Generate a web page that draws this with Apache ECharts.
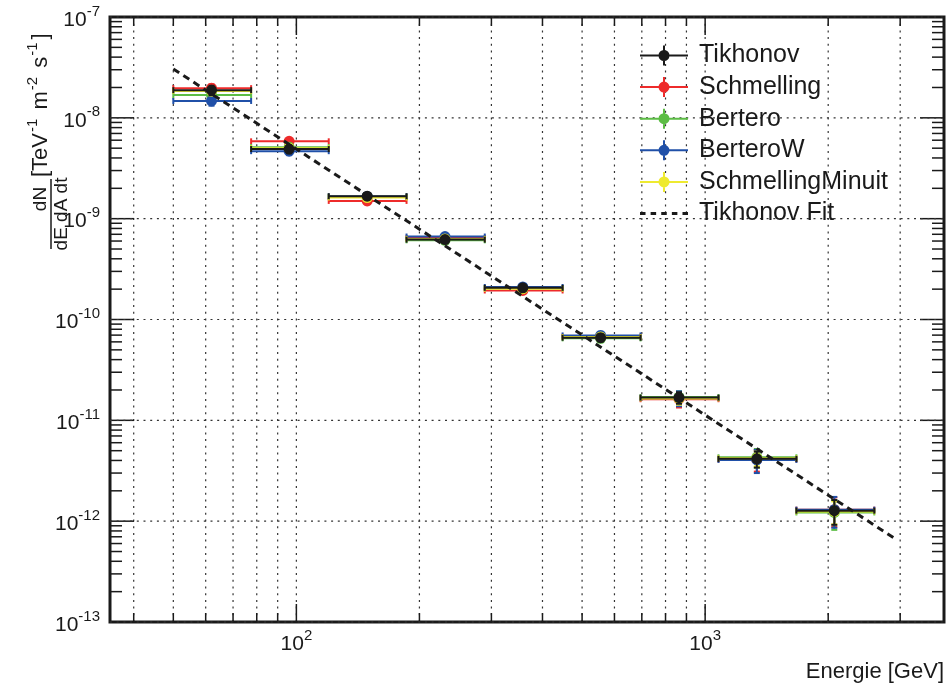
<!DOCTYPE html>
<html><head><meta charset="utf-8">
<script src="https://cdn.jsdelivr.net/npm/echarts@6/dist/echarts.min.js"></script>
<style>html,body{margin:0;padding:0;background:#fff}#c{width:952px;height:689px}</style>
</head><body><div id="c"></div>
<script>
const FONT = '"Liberation Sans", Arial, Helvetica, sans-serif';
const INK = '#1a1a1a';

// ---- data ----
const binLow    = [50, 77.5, 120, 186, 289, 448, 695, 1078, 1672];
const binHigh   = [77.5, 120, 186, 289, 448, 695, 1078, 1672, 2593];
const binCenter = [62, 96, 149, 231, 358, 555, 863, 1338, 2070];

const tikhonovY   = [1.88e-8, 4.9e-9, 1.67e-9, 6.2e-10, 2.06e-10, 6.6e-11, 1.68e-11, 4.15e-12, 1.27e-12];
const tikhonovErr = [2.0e-9, 4.5e-10, 1.2e-10, 4.0e-11, 1.5e-11, 5.5e-12, 2.2e-12, 7.5e-13, 3.5e-13];
const schmellingY   = [1.97e-8, 5.85e-9, 1.5e-9, 6.45e-10, 1.94e-10, 6.75e-11, 1.62e-11, 4.1e-12, 1.3e-12];
const schmellingErr = [1.8e-9, 4.5e-10, 1.1e-10, 4.0e-11, 1.4e-11, 6.0e-12, 2.8e-12, 1.0e-12, 4.2e-13];
const berteroY   = [1.68e-8, 5.12e-9, 1.65e-9, 6.1e-10, 2.04e-10, 6.5e-11, 1.7e-11, 4.3e-12, 1.22e-12];
const berteroErr = [1.6e-9, 4.0e-10, 1.1e-10, 3.8e-11, 1.4e-11, 5.5e-12, 2.4e-12, 9.0e-13, 4.0e-13];
const berteroWY   = [1.47e-8, 4.67e-9, 1.66e-9, 6.65e-10, 2.1e-10, 6.95e-11, 1.66e-11, 4.05e-12, 1.3e-12];
const berteroWErr = [1.5e-9, 4.0e-10, 1.1e-10, 4.0e-11, 1.5e-11, 6.0e-12, 2.8e-12, 1.05e-12, 4.4e-13];
const minuitY   = [1.85e-8, 5.0e-9, 1.62e-9, 6.3e-10, 2.02e-10, 6.7e-11, 1.65e-11, 4.2e-12, 1.25e-12];
const minuitErr = [1.8e-9, 4.2e-10, 1.1e-10, 4.0e-11, 1.4e-11, 5.5e-12, 2.2e-12, 7.0e-13, 3.2e-13];

const fitX = [50, 2900];
const fitY = [3.05e-8, 6.8e-13];

const X_MIN = 35, X_MAX = 3840, Y_MIN = 1e-13, Y_MAX = 1e-7;
const xTicks = [40, 50, 60, 70, 80, 90, 100, 200, 300, 400, 500, 600, 700, 800, 900, 1000, 2000, 3000];
const xMajorTicks = [100, 1000];
const yMajorTicks = [1e-13, 1e-12, 1e-11, 1e-10, 1e-9, 1e-8, 1e-7];
const yMinorMantissa = [2, 3, 4, 5, 6, 7, 8, 9];

const COLORS = {
  'Tikhonov': '#1a1a1a',
  'Schmelling': '#ee2b2b',
  'Bertero': '#5cbd45',
  'BerteroW': '#2050a8',
  'SchmellingMinuit': '#eeea30'
};

// ---- helpers ----
function rows(y, err) {
  return binCenter.map((x, i) => [x, y[i], binLow[i], binHigh[i], y[i] - err[i], y[i] + err[i]]);
}
function errRender(color) {
  return function (params, api) {
    const x = api.value(0), y = api.value(1);
    const c = api.coord([x, y]);
    const l = api.coord([api.value(2), y]);
    const r = api.coord([api.value(3), y]);
    const t = api.coord([x, api.value(5)]);
    const b = api.coord([x, api.value(4)]);
    const st = { stroke: color, lineWidth: 2 };
    return { type: 'group', children: [
      { type: 'line', shape: { x1: l[0], y1: c[1], x2: r[0], y2: c[1] }, style: st },
      { type: 'line', shape: { x1: l[0], y1: c[1] - 3, x2: l[0], y2: c[1] + 3 }, style: st },
      { type: 'line', shape: { x1: r[0], y1: c[1] - 3, x2: r[0], y2: c[1] + 3 }, style: st },
      { type: 'line', shape: { x1: c[0], y1: t[1], x2: c[0], y2: b[1] }, style: st },
      { type: 'line', shape: { x1: c[0] - 3, y1: t[1], x2: c[0] + 3, y2: t[1] }, style: st },
      { type: 'line', shape: { x1: c[0] - 3, y1: b[1], x2: c[0] + 3, y2: b[1] }, style: st },
      { type: 'circle', shape: { cx: c[0], cy: c[1], r: 5.5 }, style: { fill: color } }
    ]};
  };
}
function modelSeries(name, y, err) {
  return {
    name: name, type: 'custom', renderItem: errRender(COLORS[name]),
    data: rows(y, err), encode: { x: 0, y: 1 }, itemStyle: { color: COLORS[name] },
    z: 5, silent: true
  };
}
function supLabel(v) {
  const e = Math.log10(v);
  const r = Math.round(e);
  if (Math.abs(e - r) > 1e-6) return '';
  return '{b|10}{s|' + r + '}';
}
const labelRich = {
  b: { fontSize: 21, fontFamily: FONT, color: INK, lineHeight: 32, verticalAlign: 'middle' },
  s: { fontSize: 15, fontFamily: FONT, color: INK, lineHeight: 15, verticalAlign: 'top' }
};
const GRID_STYLE = { stroke: '#333', lineWidth: 1.2, lineDash: [2, 4.7] };
const TICK_STYLE = { stroke: INK, lineWidth: 1.5 };

const yMinorTicks = [];
yMajorTicks.slice(0, -1).forEach(d => yMinorMantissa.forEach(m => yMinorTicks.push(m * d)));

const xTickSeries = {
  type: 'custom', silent: true, z: 1,
  data: xTicks.map(v => [v, Y_MIN]), encode: { x: 0, y: 1 },
  renderItem: function (params, api) {
    const v = api.value(0);
    const major = xMajorTicks.indexOf(v) >= 0;
    const pb = api.coord([v, Y_MIN]), pt = api.coord([v, Y_MAX]);
    const len = major ? 18 : 9;
    return { type: 'group', children: [
      { type: 'line', shape: { x1: pb[0], y1: pt[1], x2: pb[0], y2: pb[1] }, style: GRID_STYLE },
      { type: 'line', shape: { x1: pb[0], y1: pb[1], x2: pb[0], y2: pb[1] - len }, style: TICK_STYLE },
      { type: 'line', shape: { x1: pb[0], y1: pt[1], x2: pb[0], y2: pt[1] + len }, style: TICK_STYLE }
    ]};
  }
};
const yTickData = yMajorTicks.map(v => [X_MIN, v, 1]).concat(yMinorTicks.map(v => [X_MIN, v, 0]));
const yTickSeries = {
  type: 'custom', silent: true, z: 1,
  data: yTickData, encode: { x: 0, y: 1 },
  renderItem: function (params, api) {
    const v = api.value(1);
    const major = api.value(2) === 1;
    const pl = api.coord([X_MIN, v]), pr = api.coord([X_MAX, v]);
    const len = major ? 24 : 12;
    const ch = [
      { type: 'line', shape: { x1: pl[0], y1: pl[1], x2: pl[0] + len, y2: pl[1] }, style: TICK_STYLE },
      { type: 'line', shape: { x1: pr[0], y1: pl[1], x2: pr[0] - len, y2: pl[1] }, style: TICK_STYLE }
    ];
    if (major) ch.push({ type: 'line', shape: { x1: pl[0], y1: pl[1], x2: pr[0], y2: pl[1] }, style: GRID_STYLE });
    return { type: 'group', children: ch };
  }
};

const LEP_ICON = 'path://M0,9h48v2h-48zM23,0h2v20h-2zM29.5,10a5.5,5.5 0 1,1 -11,0a5.5,5.5 0 1,1 11,0z';
const DASH_ICON = 'path://M0,8.5h5.5v3h-5.5zM10.6,8.5h5.5v3h-5.5zM21.2,8.5h5.5v3h-5.5zM31.8,8.5h5.5v3h-5.5zM42.4,8.5h5.5v3h-5.5z';

const chart = echarts.init(document.getElementById('c'), null, { renderer: 'canvas' });
chart.setOption({
  animation: false,
  backgroundColor: '#fff',
  textStyle: { fontFamily: FONT },
  grid: { left: 110, right: 8, top: 17, bottom: 67, show: true, borderColor: INK, borderWidth: 3,
          backgroundColor: 'transparent', containLabel: false, outerBoundsMode: 'none' },
  xAxis: {
    type: 'log', logBase: 10, min: X_MIN, max: X_MAX,
    axisLine: { show: false }, axisTick: { show: false }, splitLine: { show: false }, minorTick: { show: false },
    axisLabel: { formatter: supLabel, rich: labelRich, margin: 6, showMinLabel: true, showMaxLabel: true, hideOverlap: false }
  },
  yAxis: {
    type: 'log', logBase: 10, min: Y_MIN, max: Y_MAX, splitNumber: 6,
    axisLine: { show: false }, axisTick: { show: false }, splitLine: { show: false },
    axisLabel: { formatter: supLabel, rich: labelRich, margin: 10, padding: [6, 0, 0, 0], hideOverlap: false }
  },
  legend: {
    orient: 'vertical', left: 635, top: 38, align: 'left',
    itemWidth: 48, itemHeight: 20, itemGap: 6.6,
    textStyle: { fontSize: 25, fontFamily: FONT, color: INK, lineHeight: 25, padding: [0, 0, 0, 6] },
    selectedMode: false, symbolKeepAspect: true,
    data: [
      { name: 'Tikhonov', icon: LEP_ICON },
      { name: 'Schmelling', icon: LEP_ICON },
      { name: 'Bertero', icon: LEP_ICON },
      { name: 'BerteroW', icon: LEP_ICON },
      { name: 'SchmellingMinuit', icon: LEP_ICON },
      { name: 'Tikhonov Fit', icon: DASH_ICON }
    ]
  },
  graphic: [
    { type: 'group', x: 51, y: 214, rotation: Math.PI / 2, children: [
      { type: 'line', shape: { x1: -35, y1: 0, x2: 35, y2: 0 }, style: { stroke: INK, lineWidth: 1.5 } },
      { type: 'text', x: 15, y: -10, style: { text: 'dN', font: '19px ' + FONT, fill: INK, align: 'center', verticalAlign: 'middle' } },
      { type: 'text', x: 0, y: 10.5, style: { text: 'dE dA dt', font: '19px ' + FONT, fill: INK, align: 'center', verticalAlign: 'middle' } },
      { type: 'text', x: 37, y: -10, style: {
          text: '{a|[TeV}{s|-1}{a| m}{s|-2}{a| s}{s|-1}{a|]}',
          align: 'left', verticalAlign: 'middle',
          rich: {
            a: { fontSize: 22, fontFamily: FONT, fill: INK, lineHeight: 32, verticalAlign: 'middle' },
            s: { fontSize: 15, fontFamily: FONT, fill: INK, lineHeight: 15, verticalAlign: 'top', padding: [0, 3, 0, 1] }
          }
      } }
    ]},
    { type: 'text', x: 944, y: 661, style: { text: 'Energie [GeV]', font: '22px ' + FONT, fill: INK, align: 'right', verticalAlign: 'top' } }
  ],
  series: [
    xTickSeries, yTickSeries,
    modelSeries('Schmelling', schmellingY, schmellingErr),
    modelSeries('Bertero', berteroY, berteroErr),
    modelSeries('BerteroW', berteroWY, berteroWErr),
    modelSeries('SchmellingMinuit', minuitY, minuitErr),
    modelSeries('Tikhonov', tikhonovY, tikhonovErr),
    {
      name: 'Tikhonov Fit', type: 'line', data: fitX.map((x, i) => [x, fitY[i]]),
      symbol: 'none', silent: true, z: 6,
      lineStyle: { color: INK, width: 3, type: [7, 5] }, itemStyle: { color: INK }
    }
  ]
});
</script>
</body></html>
